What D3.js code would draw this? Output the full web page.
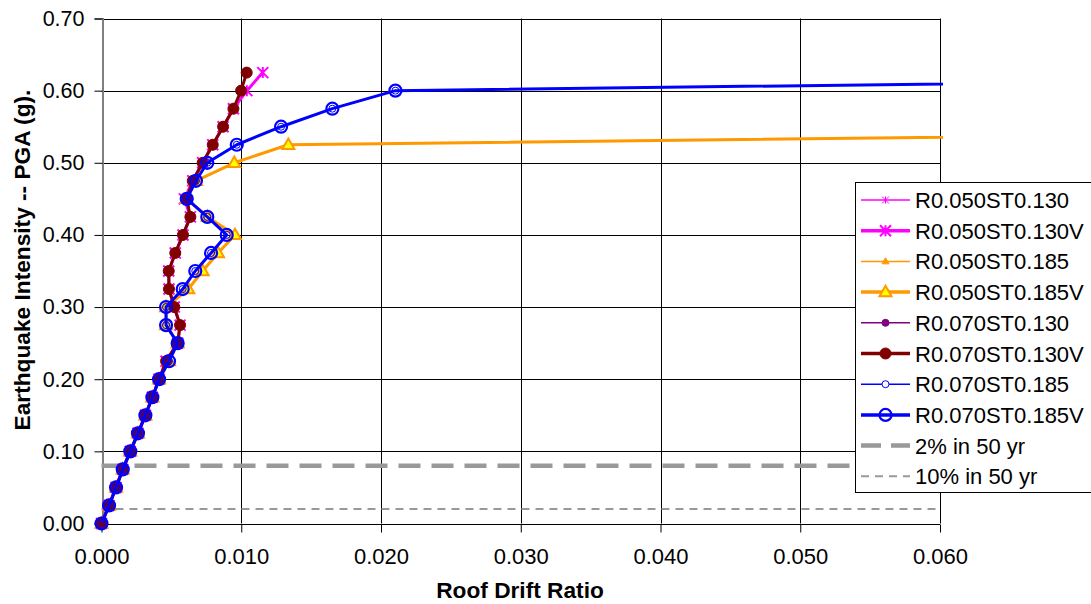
<!DOCTYPE html>
<html><head><meta charset="utf-8">
<script src="https://cdn.jsdelivr.net/npm/d3@7"></script>
<style>
html,body{margin:0;padding:0;background:#fff;}
svg{display:block;font-family:Arial,"Liberation Sans",sans-serif;}
</style></head>
<body>
<svg id="c" width="1091" height="604"></svg>
<script>
// PGA levels (g)
const pga = [0,0.025,0.05,0.075,0.1,0.125,0.15,0.175,0.2,0.225,0.25,0.275,0.3,0.325,0.35,0.375,0.4,0.425,0.45,0.475,0.5,0.525,0.55,0.575,0.6,0.625];
// Roof drift ratios per series
const driftR050ST130 = [0,0.00054,0.00104,0.00152,0.00206,0.00261,0.00314,0.00364,0.00412,0.00462,0.00545,0.00562,0.00521,0.00483,0.00481,0.00528,0.00583,0.00636,0.00593,0.00653,0.00724,0.00796,0.0087,0.00944,0.0104,0.01154];
const driftR050ST130V = [0,0.00054,0.00104,0.00152,0.00206,0.00261,0.00314,0.00364,0.00412,0.00462,0.00545,0.00562,0.00521,0.00483,0.00481,0.00528,0.00583,0.00636,0.00593,0.00653,0.00724,0.00796,0.0087,0.00944,0.0104,0.01154];
const driftR050ST185 = [0,0.00054,0.00104,0.00152,0.00206,0.00261,0.00314,0.00364,0.00412,0.00483,0.00545,0.00462,0.00462,0.00621,0.00724,0.00834,0.00955,0.0076,0.0061,0.00676,0.0095,0.01337,0.127];
const driftR050ST185V = [0,0.00054,0.00104,0.00152,0.00206,0.00261,0.00314,0.00364,0.00412,0.00483,0.00545,0.00462,0.00462,0.00621,0.00724,0.00834,0.00955,0.0076,0.0061,0.00676,0.0095,0.01337,0.127];
const driftR070ST130 = [0,0.00054,0.00104,0.00152,0.00206,0.00261,0.00314,0.00364,0.00412,0.00462,0.00545,0.00562,0.00521,0.00483,0.00481,0.00528,0.00583,0.00636,0.0061,0.00653,0.00724,0.00796,0.0087,0.00944,0.00999,0.01039];
const driftR070ST130V = [0,0.00054,0.00104,0.00152,0.00206,0.00261,0.00314,0.00364,0.00412,0.00462,0.00545,0.00562,0.00521,0.00483,0.00481,0.00528,0.00583,0.00636,0.0061,0.00653,0.00724,0.00796,0.0087,0.00944,0.00999,0.01039];
const driftR070ST185 = [0,0.00054,0.00104,0.00152,0.00206,0.00261,0.00314,0.00364,0.00412,0.00483,0.00545,0.00462,0.00462,0.00581,0.00671,0.00784,0.00896,0.00757,0.0061,0.00676,0.00757,0.00968,0.01285,0.01652,0.02103,0.126];
const driftR070ST185V = [0,0.00054,0.00104,0.00152,0.00206,0.00261,0.00314,0.00364,0.00412,0.00483,0.00545,0.00462,0.00462,0.00581,0.00671,0.00784,0.00896,0.00757,0.0061,0.00676,0.00757,0.00968,0.01285,0.01652,0.02103,0.126];
// hazard levels
const hazardNames = ["2% in 50 yr","10% in 50 yr"];
const hazardPGA = [0.08,0.02];
const xTicks = [0,0.01,0.02,0.03,0.04,0.05,0.06];
const yTicks = [0,0.1,0.2,0.3,0.4,0.5,0.6,0.7];

const series = [
  {name:"R0.050ST0.130", d:driftR050ST130, color:"#FF00FF", w:1, sym:"star", ms:7, fill:"none", mstroke:"#FF00FF", msw:1},
  {name:"R0.050ST0.130V", d:driftR050ST130V, color:"#FF00FF", w:3, sym:"star", ms:11, fill:"none", mstroke:"#FF00FF", msw:2},
  {name:"R0.050ST0.185", d:driftR050ST185, color:"#FF9900", w:1, sym:"tri", ms:7, fill:"#FF9900", mstroke:"#FF9900", msw:1},
  {name:"R0.050ST0.185V", d:driftR050ST185V, color:"#FF9900", w:3, sym:"tri", ms:12, fill:"#FFFF00", mstroke:"#FF9900", msw:2},
  {name:"R0.070ST0.130", d:driftR070ST130, color:"#800080", w:1, sym:"dot", ms:3.5, fill:"#800080", mstroke:"#800080", msw:1},
  {name:"R0.070ST0.130V", d:driftR070ST130V, color:"#800000", w:3, sym:"dot", ms:5.5, fill:"#800000", mstroke:"#800000", msw:1},
  {name:"R0.070ST0.185", d:driftR070ST185, color:"#0000FF", w:1, sym:"circ", ms:3.5, fill:"none", mstroke:"#0000FF", msw:1},
  {name:"R0.070ST0.185V", d:driftR070ST185V, color:"#0000FF", w:3, sym:"circ", ms:6, fill:"none", mstroke:"#0000FF", msw:2.2}
];

const svg = d3.select("#c");
const L=101.5, R=940, T=18.5, B=523.5;
const x = d3.scaleLinear().domain([0,0.06]).range([L,R]);
const y = d3.scaleLinear().domain([0,0.7]).range([B,T]);

// gridlines
svg.append("g").selectAll("line").data(yTicks).join("line")
  .attr("x1",L).attr("x2",R).attr("y1",d=>Math.round(y(d))+0.5).attr("y2",d=>Math.round(y(d))+0.5)
  .attr("stroke","#000").attr("stroke-width",1);
svg.append("g").selectAll("line").data(xTicks.slice(1)).join("line")
  .attr("y1",T).attr("y2",B).attr("x1",d=>Math.round(x(d))+0.5).attr("x2",d=>Math.round(x(d))+0.5)
  .attr("stroke","#000").attr("stroke-width",1);

// axes
const font = "Arial, 'Liberation Sans', sans-serif";
const yAx = svg.append("g").attr("transform",`translate(${Math.round(L)+0.5},0)`)
  .call(d3.axisLeft(y).tickValues(yTicks).tickFormat(d3.format(".2f")).tickSize(8).tickPadding(10));
yAx.select(".domain").attr("stroke","#808080").attr("stroke-width",2);
yAx.selectAll(".tick text").attr("font-size","21.5px");
const xAx = svg.append("g").attr("transform",`translate(0,${Math.round(B)+0.5})`)
  .call(d3.axisBottom(x).tickValues(xTicks).tickFormat(d3.format(".3f")).tickSize(8).tickPadding(16));
xAx.select(".domain").remove();
xAx.selectAll(".tick text").attr("font-size","22px");
svg.selectAll(".tick text").attr("font-family",font).attr("fill","#000");
svg.selectAll(".tick line").attr("stroke","#000");

svg.append("text").attr("x",520).attr("y",598).attr("text-anchor","middle")
  .attr("font-weight","bold").attr("font-size","22.7px").attr("font-family",font).text("Roof Drift Ratio");
svg.append("text").attr("transform",`translate(30,260) rotate(-90)`).attr("text-anchor","middle")
  .attr("font-weight","bold").attr("font-size","22.7px").attr("font-family",font).text("Earthquake Intensity -- PGA (g).");

// clip
svg.append("clipPath").attr("id","clip").append("rect").attr("x",L-8).attr("y",T-8).attr("width",R-L+11).attr("height",B-T+16);
svg.append("clipPath").attr("id","clipL").append("rect").attr("x",L).attr("y",T).attr("width",R-L+3).attr("height",B-T);

// hazard lines
const hz = svg.append("g");
hz.append("line").attr("x1",L).attr("x2",R).attr("y1",y(hazardPGA[0])).attr("y2",y(hazardPGA[0]))
  .attr("stroke","#999").attr("stroke-width",4.5).attr("stroke-dasharray","22,11");
hz.append("line").attr("x1",L).attr("x2",R).attr("y1",y(hazardPGA[1])).attr("y2",y(hazardPGA[1]))
  .attr("stroke","#999").attr("stroke-width",2).attr("stroke-dasharray","8,6");

function marker(g, s, cx, cy){
  const m = s.ms;
  if(s.sym==="star"){
    g.append("path").attr("d",`M${cx},${cy-m/2}V${cy+m/2}M${cx-m/2},${cy-m/2}L${cx+m/2},${cy+m/2}M${cx-m/2},${cy+m/2}L${cx+m/2},${cy-m/2}`)
      .attr("stroke",s.mstroke).attr("stroke-width",s.msw).attr("fill","none");
  } else if(s.sym==="tri"){
    const h=m*0.87;
    g.append("path").attr("d",`M${cx},${cy-h*0.6}L${cx+m/2},${cy+h*0.4}L${cx-m/2},${cy+h*0.4}Z`)
      .attr("stroke",s.mstroke).attr("stroke-width",s.msw).attr("fill",s.fill);
  } else {
    g.append("circle").attr("cx",cx).attr("cy",cy).attr("r",m)
      .attr("stroke",s.mstroke).attr("stroke-width",s.msw).attr("fill",s.fill);
  }
}

const line = d3.line().x(d=>x(d[0])).y(d=>y(d[1]));
const plot = svg.append("g");
series.forEach(s=>{
  const pts = s.d.map((v,i)=>[v,pga[i]]);
  plot.append("path").attr("d",line(pts)).attr("fill","none").attr("stroke",s.color)
    .attr("stroke-width",s.w).attr("stroke-linejoin","round").attr("clip-path","url(#clipL)");
  const mg = plot.append("g").attr("clip-path","url(#clip)");
  pts.filter(p=>p[0]<=0.06).forEach(p=>marker(mg,s,x(p[0]),y(p[1])));
});

// legend
const lg = svg.append("g");
lg.append("rect").attr("x",855.5).attr("y",182.5).attr("width",240).attr("height",310)
  .attr("fill","#fff").attr("stroke","#000").attr("stroke-width",1);
const rowY = i=>200+i*30.7;
series.forEach((s,i)=>{
  const yy=rowY(i);
  lg.append("line").attr("x1",861).attr("x2",910).attr("y1",yy).attr("y2",yy).attr("stroke",s.color).attr("stroke-width",s.w===1?1.5:3.5);
  const ls = Object.assign({},s); if(s.sym==="circ"&&s.w===1) ls.fill="#fff";
  marker(lg,ls,885.5,yy);
  lg.append("text").attr("x",915).attr("y",yy+8).attr("font-size","22px").attr("font-family",font).text(s.name);
});
hazardNames.forEach((n,i)=>{
  const yy=rowY(8+i);
  lg.append("line").attr("x1",861).attr("x2",910).attr("y1",yy).attr("y2",yy).attr("stroke","#999")
    .attr("stroke-width",i===0?4.5:2).attr("stroke-dasharray",i===0?"20,10":"8,6");
  lg.append("text").attr("x",915).attr("y",yy+8).attr("font-size","22px").attr("font-family",font).text(n);
});
</script>
</body></html>
